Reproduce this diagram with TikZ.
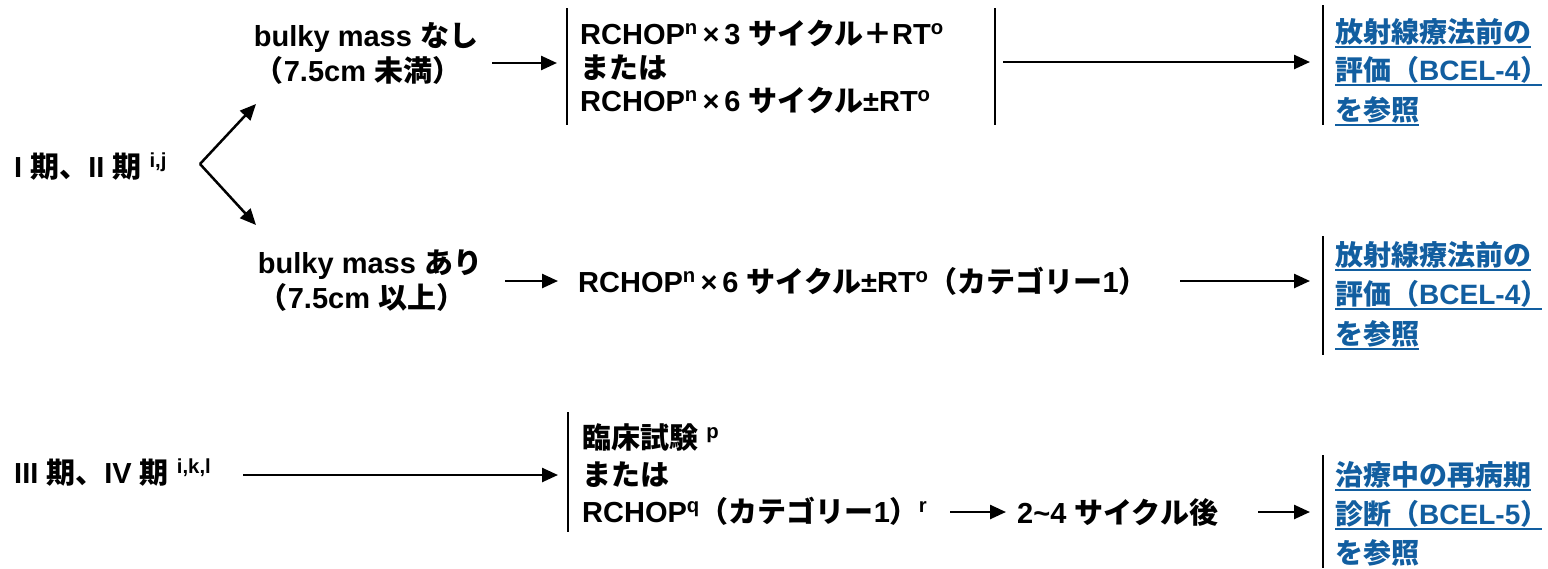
\documentclass[tikz,border=0pt]{standalone}
\usepackage{fontspec}
\setmainfont{Liberation Sans}
\newfontfamily\jp{Noto Sans CJK JP}
\usetikzlibrary{arrows.meta}
\definecolor{linkblue}{RGB}{18,94,160}
\newcommand\J[1]{{\jp #1}}
\newcommand\sps[1]{\textsuperscript{#1}}
\newcommand\rparen{\makebox[0.75em][l]{\jp ）}}
\tikzset{
  txt/.style={inner sep=0pt, anchor=base west, font=\fontsize{29}{33}\selectfont\bfseries},
  ctxt/.style={txt, anchor=base},
  link/.style={txt, text=linkblue, font=\fontsize{28}{33}\selectfont\bfseries},
  arr/.style={line width=2.5pt, -{Triangle[length=16pt,width=14pt]}},
  bar/.style={line width=2.8pt},
  uline/.style={linkblue, line width=2.8pt},
}
\begin{document}
\begin{tikzpicture}[x=1pt,y=-1pt]
\useasboundingbox (0,0) rectangle (1548,568);

% ---------- stages I, II ----------
\node[txt] (s12) at (14,177) {I \J{期、}II \J{期} \sps{i,j}};
\coordinate (v) at (200,164);
\coordinate (up) at (256,104);
\coordinate (dn) at (256,225);
\draw[arr] (v) -- (up);
\draw[arr] (v) -- (dn);

% bulky mass nashi
\node[ctxt] (n1) at (366,46) {bulky mass \J{なし}};
\node[ctxt] (n2) at (358,81) {\J{（}7.5cm \J{未満）}};
\coordinate (a1s) at (492,63);
\coordinate (a1e) at (557,63);
\draw[arr] (a1s) -- (a1e);

\coordinate (b1t) at (567,8);  \coordinate (b1b) at (567,125);
\draw[bar] (b1t) -- (b1b);
\node[txt] (t1) at (580,44) {RCHOP\sps{n}\,×\,3 \J{サイクル＋}RT\sps{o}};
\node[txt] (t2) at (580,78) {\J{または}};
\node[txt] (t3) at (580,111) {RCHOP\sps{n}\,×\,6 \J{サイクル}±RT\sps{o}};
\coordinate (b2t) at (995,8);  \coordinate (b2b) at (995,125);
\draw[bar] (b2t) -- (b2b);

\coordinate (a2s) at (1003,62);
\coordinate (a2e) at (1310,62);
\draw[arr] (a2s) -- (a2e);

\coordinate (b3t) at (1323,5);  \coordinate (b3b) at (1323,125);
\draw[bar] (b3t) -- (b3b);
\node[link] (l1a) at (1335,42) {\J{放射線療法前の}};
\node[link] (l1b) at (1335,80) {\J{評価（}BCEL-4\rparen};
\node[link] (l1c) at (1335,120) {\J{を参照}};
\foreach \n in {l1a,l1b,l1c}
  \draw[uline] ([yshift=-5pt]\n.base west) -- ([yshift=-5pt]\n.base east);

% bulky mass ari
\node[ctxt] (r1) at (370,273) {bulky mass \J{あり}};
\node[ctxt] (r2) at (362,308) {\J{（}7.5cm \J{以上）}};
\coordinate (a3s) at (505,281);
\coordinate (a3e) at (558,281);
\draw[arr] (a3s) -- (a3e);
\node[txt] (m) at (578,292) {RCHOP\sps{n}\,×\,6 \J{サイクル}±RT\sps{o}\J{（カテゴリー}1\J{）}};
\coordinate (a4s) at (1180,281);
\coordinate (a4e) at (1310,281);
\draw[arr] (a4s) -- (a4e);

\coordinate (b4t) at (1323,236);  \coordinate (b4b) at (1323,355);
\draw[bar] (b4t) -- (b4b);
\node[link] (l2a) at (1335,265) {\J{放射線療法前の}};
\node[link] (l2b) at (1335,304) {\J{評価（}BCEL-4\rparen};
\node[link] (l2c) at (1335,344) {\J{を参照}};
\foreach \n in {l2a,l2b,l2c}
  \draw[uline] ([yshift=-5pt]\n.base west) -- ([yshift=-5pt]\n.base east);

% ---------- stages III, IV ----------
\node[txt] (s34) at (14,483) {III \J{期、}IV \J{期} \sps{i,k,l}};
\coordinate (a5s) at (243,475);
\coordinate (a5e) at (558,475);
\draw[arr] (a5s) -- (a5e);

\coordinate (b5t) at (568,412);  \coordinate (b5b) at (568,532);
\draw[bar] (b5t) -- (b5b);
\node[txt] (c1) at (582,448) {\J{臨床試験} \sps{p}};
\node[txt] (c2) at (582,485) {\J{または}};
\node[txt] (c3) at (582,522) {RCHOP\sps{q}\J{（カテゴリー}1\J{）}\sps{r}};

\coordinate (a6s) at (950,512);
\coordinate (a6e) at (1006,512);
\draw[arr] (a6s) -- (a6e);
\node[txt] (cyc) at (1017,523) {2\textasciitilde4 \J{サイクル後}};
\coordinate (a7s) at (1258,512);
\coordinate (a7e) at (1310,512);
\draw[arr] (a7s) -- (a7e);

\coordinate (b6t) at (1323,455);  \coordinate (b6b) at (1323,568);
\draw[bar] (b6t) -- (b6b);
\node[link] (l3a) at (1335,485) {\J{治療中の再病期}};
\node[link] (l3b) at (1335,524) {\J{診断（}BCEL-5\rparen};
\node[link] (l3c) at (1335,563) {\J{を参照}};
\foreach \n in {l3a,l3b}
  \draw[uline] ([yshift=-5pt]\n.base west) -- ([yshift=-5pt]\n.base east);
\end{tikzpicture}
\end{document}
